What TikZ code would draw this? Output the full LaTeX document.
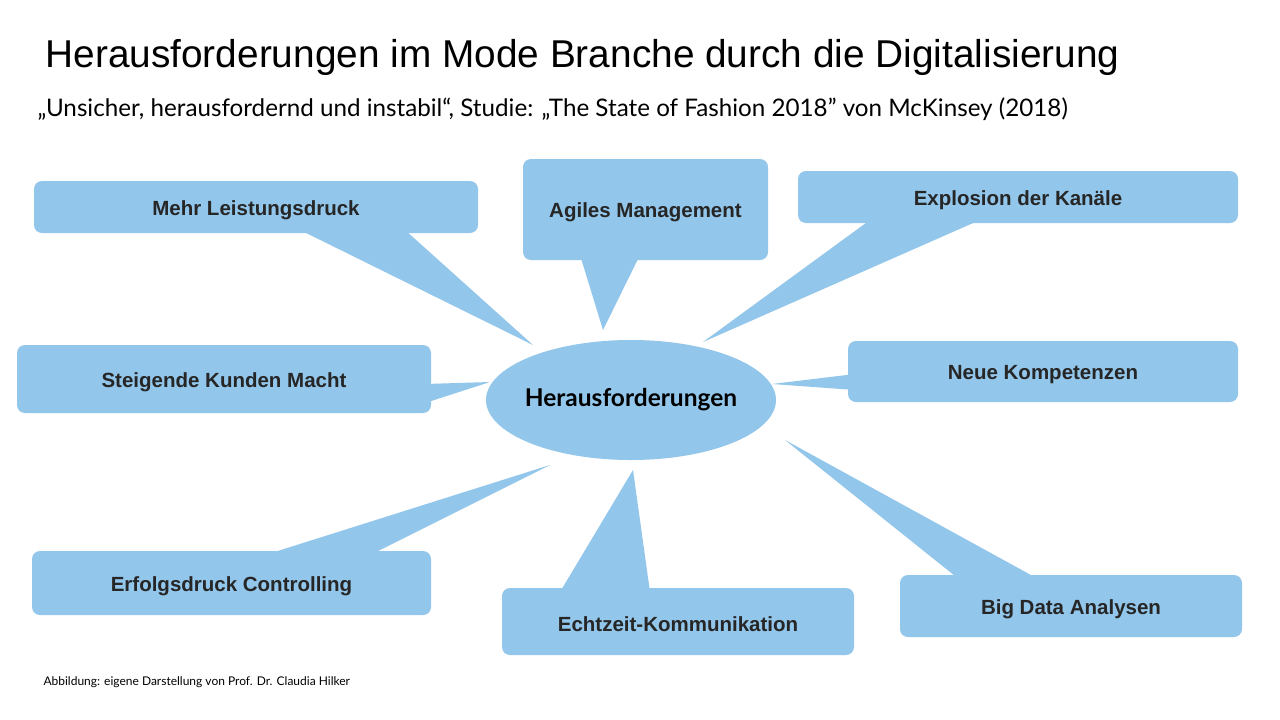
\documentclass[tikz,border=0pt]{standalone}
\usepackage{fontspec}
\usetikzlibrary{shapes.geometric}
\setmainfont{Liberation Sans}
\newfontfamily\gothic{Lato}
\definecolor{bub}{RGB}{146,198,234}
\begin{document}
\begin{tikzpicture}[x=1pt,y=-1pt,
  box/.style={fill=bub,rounded corners=8pt},
  ptr/.style={fill=bub},
  lbl/.style={font=\fontsize{20.5}{24}\selectfont\bfseries,text=black!85,yshift=-3pt}]
\useasboundingbox (0,0) rectangle (1280,720);
\fill[white] (0,0) rectangle (1280,720);
\node[anchor=west,font=\fontsize{38.8}{44}\selectfont] (title) at (42,57) {Herausforderungen im Mode Branche durch die Digitalisierung};
\node[anchor=west,font=\gothic\fontsize{24.2}{28}\selectfont] (sub) at (34,109) {„Unsicher, herausfordernd und instabil“, Studie: „The State of Fashion 2018” von McKinsey (2018)};
% pointers
\fill[ptr] (300,230) -- (405,230) -- (533,345) -- cycle;
\fill[ptr] (580,255) -- (640,255) -- (603,330) -- cycle;
\fill[ptr] (870,220) -- (980,220) -- (703,342) -- cycle;
\fill[ptr] (425,384) -- (425,403) -- (490,382) -- cycle;
\fill[ptr] (855,374) -- (855,390) -- (772,384) -- cycle;
\fill[ptr] (265,555) -- (370,555) -- (550,465) -- cycle;
\fill[ptr] (560,592) -- (650,592) -- (633,470) -- cycle;
\fill[ptr] (960,580) -- (1040,580) -- (785,440) -- cycle;
% boxes
\node[box,minimum width=444,minimum height=52] (b1) at (256,207) {};
\node[box,minimum width=245,minimum height=101] (b2) at (645.5,209.5) {};
\node[box,minimum width=440,minimum height=52] (b3) at (1018,197) {};
\node[box,minimum width=414,minimum height=68] (b4) at (224,379) {};
\node[box,minimum width=390,minimum height=61] (b5) at (1043,371.5) {};
\node[box,minimum width=399,minimum height=64] (b6) at (231.5,583) {};
\node[box,minimum width=352,minimum height=67] (b7) at (678,621.5) {};
\node[box,minimum width=342,minimum height=62] (b8) at (1071,606) {};
\node[lbl] (t1) at (b1) {Mehr Leistungsdruck};
\node[lbl] (t2) at (b2) {Agiles Management};
\node[lbl] (t3) at (b3) {Explosion der Kanäle};
\node[lbl] (t4) at (b4) {Steigende Kunden Macht};
\node[lbl] (t5) at (b5) {Neue Kompetenzen};
\node[lbl] (t6) at (b6) {Erfolgsdruck Controlling};
\node[lbl] (t7) at (b7) {Echtzeit-Kommunikation};
\node[lbl] (t8) at (b8) {Big Data Analysen};
\node[ellipse,fill=bub,minimum width=290,minimum height=120,inner sep=0] (c) at (631,400) {};
\node[font=\gothic\fontsize{24.5}{28}\selectfont\bfseries] (ct) at (c) {Herausforderungen};
\node[anchor=west,font=\gothic\fontsize{12}{14}\selectfont] (foot) at (40,682) {Abbildung: eigene Darstellung von Prof. Dr. Claudia Hilker};
\end{tikzpicture}
\end{document}
